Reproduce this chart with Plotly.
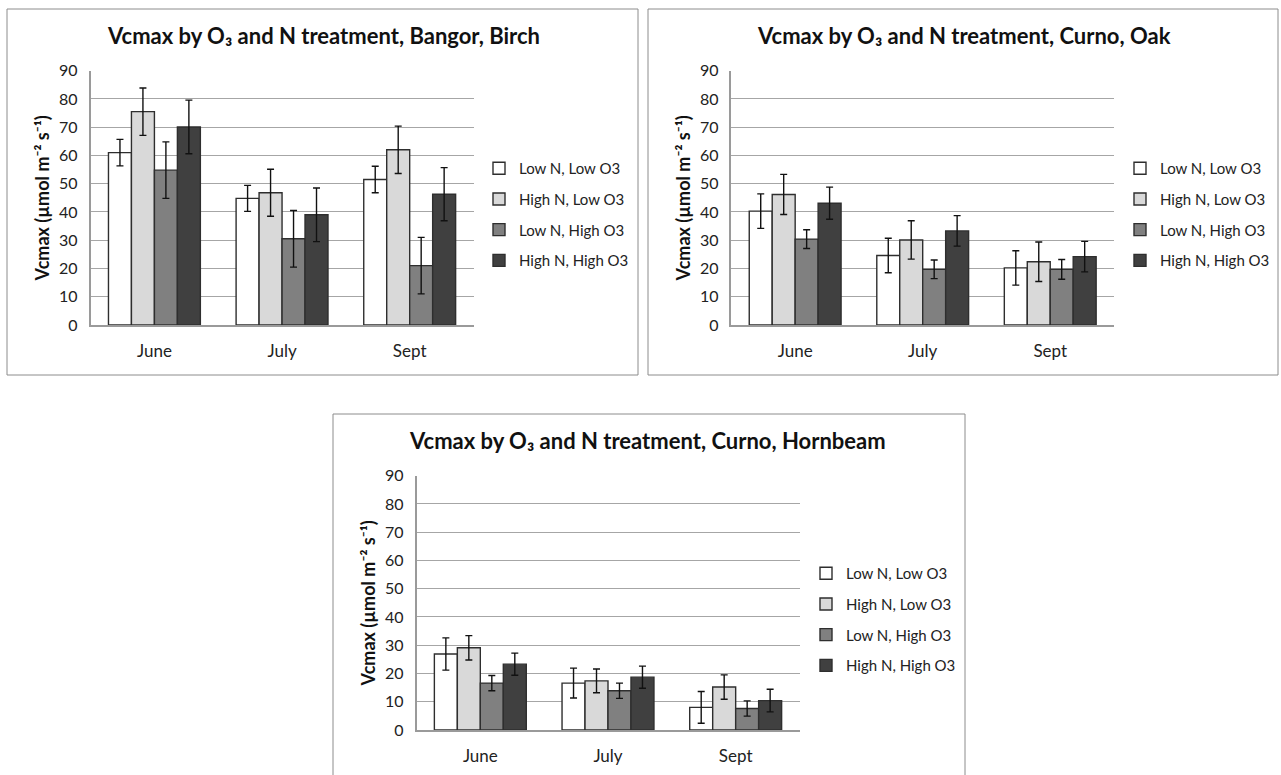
import plotly.graph_objects as go

months = ["June", "July", "Sept"]
series_names = ["Low N, Low O3", "High N, Low O3", "Low N, High O3", "High N, High O3"]
series_colors = ["#ffffff", "#d9d9d9", "#808080", "#404040"]

# Bangor, Birch
birch_vals = [[61.0, 44.8, 51.5], [75.5, 46.8, 62.0], [54.8, 30.5, 21.0], [70.1, 39.0, 46.3]]
birch_err = [[4.7, 4.6, 4.7], [8.4, 8.3, 8.4], [10.0, 10.0, 10.0], [9.5, 9.5, 9.4]]
# Curno, Oak
oak_vals = [[40.3, 24.6, 20.2], [46.2, 30.1, 22.4], [30.4, 19.7, 19.7], [43.1, 33.3, 24.2]]
oak_err = [[6.1, 6.1, 6.1], [7.1, 6.8, 7.0], [3.3, 3.3, 3.5], [5.7, 5.4, 5.4]]
# Curno, Hornbeam
horn_vals = [[26.9, 16.6, 8.0], [29.1, 17.4, 15.2], [16.6, 13.9, 7.6], [23.3, 18.7, 10.4]]
horn_err = [[5.7, 5.3, 5.6], [4.3, 4.2, 4.3], [2.7, 2.7, 2.7], [3.9, 3.9, 4.0]]

titles = [
    "Vcmax by O₃ and N treatment, Bangor, Birch",
    "Vcmax by O₃ and N treatment, Curno, Oak",
    "Vcmax by O₃ and N treatment, Curno, Hornbeam",
]
ytitle = "Vcmax (µmol m⁻² s⁻¹)"
yticks = [0, 10, 20, 30, 40, 50, 60, 70, 80, 90]

W, H = 1281, 775
FONT = "Lato"

def px(x):
    return x / W

def py(y):
    return 1 - y / H

panels = [
    dict(vals=birch_vals, err=birch_err, ax=(90.6, 473.5), ay=(70.7, 325), box=(7, 9, 638, 375),
         title=(323, 35), legend=(479, 152)),
    dict(vals=oak_vals, err=oak_err, ax=(731.4, 1114), ay=(70.7, 325), box=(648, 9, 1278, 375),
         title=(964, 35), legend=(1120, 152)),
    dict(vals=horn_vals, err=horn_err, ax=(416.5, 799.5), ay=(475.7, 730), box=(333, 414, 965, 800),
         title=(647, 440), legend=(806, 557)),
]

fig = go.Figure()
layout = dict(
    width=W, height=H, margin=dict(l=0, r=0, t=0, b=0, pad=0, autoexpand=False),
    paper_bgcolor="white", plot_bgcolor="white",
    barmode="group", bargap=0.28, bargroupgap=0,
    font=dict(family=FONT, color="#222", size=14),
    showlegend=True,
)
shapes = []
annotations = []

for i, p in enumerate(panels):
    n = "" if i == 0 else str(i + 1)
    xa, ya = "x" + n, "y" + n
    leg = "legend" + n
    for s in range(4):
        fig.add_trace(go.Bar(
            x=months, y=p["vals"][s], name=series_names[s],
            marker=dict(color=series_colors[s], line=dict(color="#2e2e2e", width=1.4)),
            error_y=dict(type="data", array=p["err"][s], visible=True, color="#111", thickness=1.4, width=3.5),
            xaxis=xa, yaxis=ya, legend=leg, legendgroup=f"p{i}s{s}",
        ))
    layout["xaxis" + n] = dict(
        domain=[px(p["ax"][0]), px(p["ax"][1])], anchor=ya, automargin=False,
        showline=True, linecolor="#9a9a9a", linewidth=1.5, showgrid=False,
        tickfont=dict(size=17, color="#222", family=FONT), ticks="", ticklabelstandoff=10,
    )
    layout["yaxis" + n] = dict(
        domain=[py(p["ay"][1]), py(p["ay"][0])], anchor=xa, range=[0, 90], automargin=False,
        tickvals=yticks, showline=True, linecolor="#9a9a9a", linewidth=1.5,
        showgrid=True, gridcolor="#a6a6a6", gridwidth=1.3, zeroline=False,
        tickfont=dict(size=16, color="#222", family=FONT), ticks="", ticklabelstandoff=8,
        title=dict(text=ytitle, font=dict(size=18, color="#111", family=FONT, weight="bold"), standoff=5),
    )
    layout[leg] = dict(
        x=px(p["legend"][0]), y=py(p["legend"][1]), xanchor="left", yanchor="top",
        font=dict(size=15, color="#222", family=FONT), tracegroupgap=8.2, itemwidth=30,
        bgcolor="rgba(0,0,0,0)",
    )
    b = p["box"]
    shapes.append(dict(type="rect", xref="paper", yref="paper",
                       x0=px(b[0]), x1=px(b[2]), y0=py(b[3]), y1=py(b[1]),
                       line=dict(color="#8c8c8c", width=1), fillcolor="rgba(0,0,0,0)"))
    annotations.append(dict(text="<b>" + titles[i] + "</b>", xref="paper", yref="paper",
                            x=px(p["title"][0]), y=py(p["title"][1]), xanchor="center", yanchor="middle",
                            showarrow=False, font=dict(size=22, color="#111", family=FONT)))

layout["shapes"] = shapes
layout["annotations"] = annotations
fig.update_layout(**layout)
fig.write_html("out.html")
